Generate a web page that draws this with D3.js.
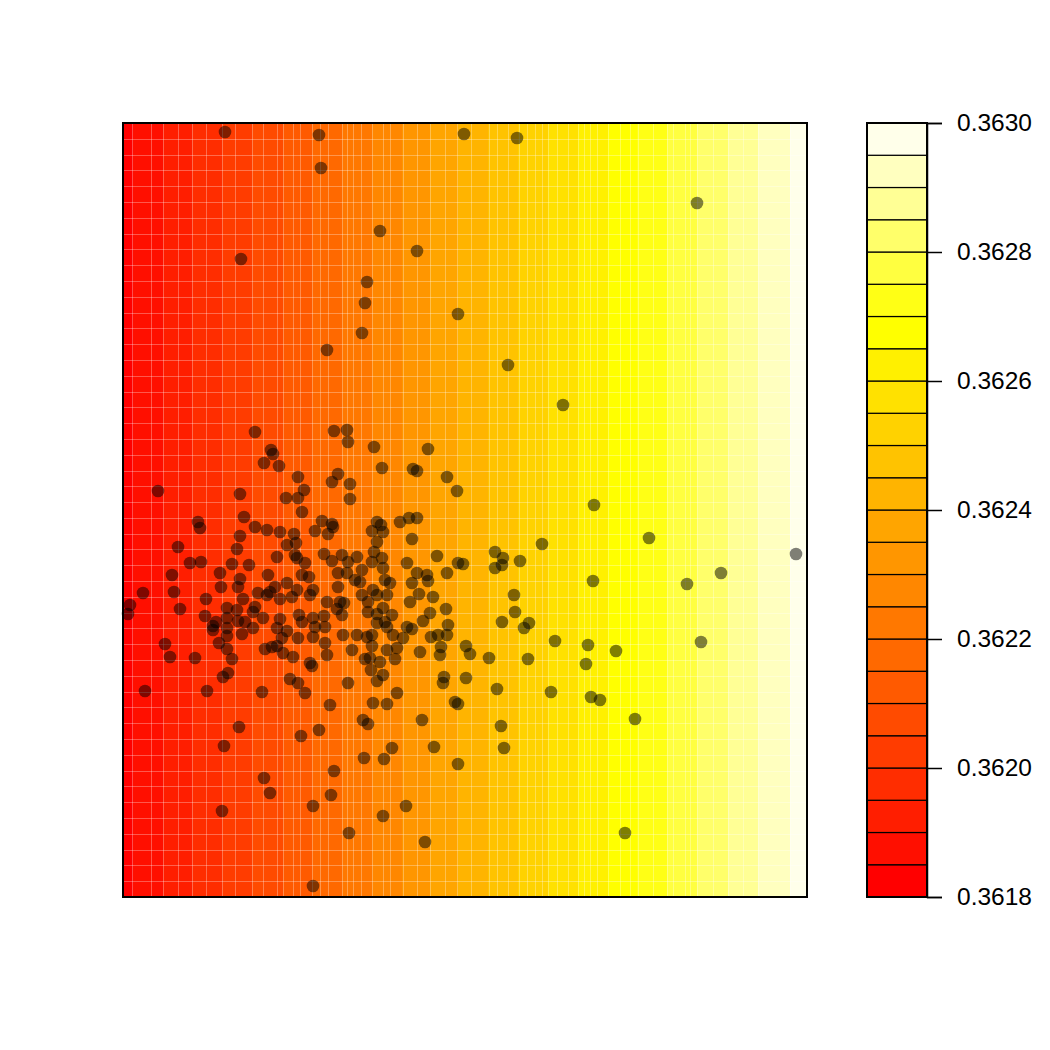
<!DOCTYPE html>
<html>
<head>
<meta charset="utf-8">
<script src="https://cdn.jsdelivr.net/npm/d3@7"></script>
<style>
  body { margin: 0; background: #fff; }
  text { font-family: "Liberation Sans", Arial, sans-serif; }
</style>
</head>
<body>
<div id="chart"></div>
<script>
// surface: value changes only along x, read as 24 bands (x edges in data units)
const bandEdges = [0, 10, 40, 69, 99, 129, 160, 189, 219, 249, 279, 307, 335,
    365, 395, 425, 455, 485, 514, 544, 574, 605, 635, 667, 684];
const bandValues = [0.361825, 0.361875, 0.361925, 0.361975, 0.362025, 0.362075,
    0.362125, 0.362175, 0.362225, 0.362275, 0.362325, 0.362375, 0.362425,
    0.362475, 0.362525, 0.362575, 0.362625, 0.362675, 0.362725, 0.362775,
    0.362825, 0.362875, 0.362925, 0.362975];

// image cell column edges (x data units), rows are uniform
const gridX = [9, 28, 40, 55, 69, 83, 99, 112, 129, 140, 154, 160, 170, 177, 189,
    197, 205, 219, 224, 230, 238, 249, 260, 267, 280, 294, 307, 322, 334, 348, 366,
    374, 385, 396, 404, 412, 419, 425, 434, 445, 455, 461, 467, 474, 485, 497, 507,
    515, 530, 544, 550, 562, 567, 574, 590, 605, 620, 635, 667];
const imageRows = 49;

// contour levels and heat colours for the key
const levels = [0.3618, 0.36185, 0.3619, 0.36195, 0.362, 0.36205, 0.3621, 0.36215,
    0.3622, 0.36225, 0.3623, 0.36235, 0.3624, 0.36245, 0.3625, 0.36255, 0.3626,
    0.36265, 0.3627, 0.36275, 0.3628, 0.36285, 0.3629, 0.36295, 0.363];
const heat = ["#FF0000", "#FF0F00", "#FF1E00", "#FF2D00", "#FF3C00", "#FF4B00",
    "#FF5A00", "#FF6900", "#FF7800", "#FF8700", "#FF9600", "#FFA500", "#FFB400",
    "#FFC300", "#FFD200", "#FFE100", "#FFF000", "#FFFF00", "#FFFF15", "#FFFF40",
    "#FFFF6A", "#FFFF95", "#FFFFBF", "#FFFFEA"];
const keyTicks = [0.3618, 0.3620, 0.3622, 0.3624, 0.3626, 0.3628, 0.3630];
const keyLabels = ["0.3618", "0.3620", "0.3622", "0.3624", "0.3626", "0.3628", "0.3630"];

// observations
const ptX = [102, 196, 198, 341, 257, 294, 118, 244, 242, 335, 239, 204, 394, 574, 385, 440,
    132, 148, 150, 141, 156, 175, 35, 117, 163, 175, 121, 75, 77, 132, 144, 157, 171, 117,
    164, 173, 55, 114, 154, 172, 174, 67, 78, 109, 126,
    211, 224, 225, 251, 305, 215, 209, 227, 259, 290, 294, 324, 334, 181, 227, 179, 199,
    209, 210, 192, 205, 254, 258, 260, 249, 277, 286, 294, 289, 254, 201, 219, 234, 251,
    259, 209, 314, 335, 340, 284, 249, 225,
    471, 526, 419, 372, 380, 397, 673, 379, 372,
    49, 97, 117, 145, 152, 147, 164, 174, 20, 51, 98, 115, 135, 144, 83, 120, 157, 169,
    7, 5, 57, 104, 114, 132, 130, 82, 140, 157, 115, 122, 104, 93, 90, 90, 104, 130, 154,
    164, 119, 104, 159, 175, 42, 96, 142, 149, 154, 104, 160, 170, 47, 72, 109, 105, 100,
    167, 22, 84, 139,
    182, 179, 186, 215, 224, 239, 232, 237, 260, 262, 267, 294, 304, 305, 289, 324, 215,
    190, 187, 239, 250, 254, 264, 296, 310, 204, 217, 221, 245, 287, 214, 176, 260, 323,
    219, 245, 254, 269, 307, 300, 179, 190, 201, 192, 202, 254, 262, 264, 284, 289, 325,
    324, 315, 308, 190, 220, 234, 244, 249, 270, 280, 202, 249, 274, 229, 264, 204, 297,
    318, 317, 343, 347, 242, 247, 272, 257, 187, 189, 248, 260, 254, 225, 321, 320, 343,
    175, 182, 274, 207, 250, 264, 332, 335,
    470, 564, 598, 391, 392, 379, 401, 406, 432, 465, 493, 578, 366, 405, 463, 374, 428,
    468, 477,
    116, 196, 178, 240, 245, 299, 101, 269, 311, 241, 261, 335, 211, 141, 147, 208, 99,
    190, 260, 283, 226, 302, 190, 378, 512, 381, 502];
const ptY = [765, 762, 729, 763, 666, 646, 638, 615, 594, 583, 564, 547, 759, 694, 532, 492,
    465, 447, 443, 434, 431, 420, 406, 403, 399, 399, 380, 375, 369, 370, 367, 365, 363, 361,
    352, 354, 350, 348, 340, 342, 339, 334, 335, 333, 332,
    466, 467, 455, 450, 448, 423, 415, 413, 429, 428, 426, 420, 406, 407, 398, 385, 376,
    373, 370, 366, 363, 375, 372, 365, 366, 375, 379, 379, 358, 355, 343, 342, 340, 345,
    339, 336, 341, 334, 333, 334, 335, 335,
    392, 359, 353, 345, 339, 336, 343, 332, 329,
    322, 324, 318, 322, 310, 305, 314, 307, 304, 305, 310, 310, 304, 302, 298, 298, 298, 300,
    292, 283, 288, 289, 287, 290, 285, 281, 279, 278, 276, 275, 279, 275, 271, 267, 269, 269, 269,
    266, 263, 261, 259, 259, 253, 254, 248, 250, 251, 248, 244, 240, 240, 239, 238, 224, 220,
    218, 206, 206, 205,
    334, 322, 320, 324, 324, 327, 317, 315, 329, 317, 314, 324, 322, 316, 314, 324, 310,
    307, 302, 302, 307, 302, 302, 303, 300, 295, 295, 294, 295, 295, 288, 282, 289, 288,
    282, 285, 283, 282, 284, 276, 275, 279, 281, 270, 270, 274, 275, 270, 270, 268, 272,
    262, 262, 260, 260, 262, 262, 260, 262, 262, 259, 254, 251, 249, 247, 247, 242, 245,
    250, 242, 251, 243, 238, 239, 238, 235, 234, 231, 227, 222, 216, 214, 220, 214, 219,
    214, 204, 204, 192, 194, 193, 195, 193,
    316, 313, 324, 302, 285, 275, 269, 274, 256, 252, 246, 255, 239, 238, 233, 208, 205,
    200, 197,
    170, 167, 161, 177, 173, 177, 151, 149, 150, 139, 138, 133, 126, 119, 104, 102, 86,
    91, 81, 91, 64, 55, 11, 171, 178, 149, 64];

const W = 1050, H = 1050;
const plot = { left: 123, right: 807, top: 123, bottom: 897 };
const key = { left: 867, right: 927, top: 123, bottom: 897 };

const svg = d3.select("#chart").append("svg")
    .attr("width", W)
    .attr("height", H);

const x = d3.scaleLinear().domain([0, 684]).range([plot.left, plot.right]);
const y = d3.scaleLinear().domain([0, 774]).range([plot.bottom, plot.top]);
const z = d3.scaleLinear().domain([levels[0], levels[levels.length - 1]]).range([key.bottom, key.top]);
const color = d3.scaleThreshold().domain(levels.slice(1, -1)).range(heat);

// image bands
svg.append("g").selectAll("rect")
    .data(bandValues).enter().append("rect")
    .attr("x", (d, i) => x(bandEdges[i]))
    .attr("y", plot.top)
    .attr("width", (d, i) => x(bandEdges[i + 1]) - x(bandEdges[i]))
    .attr("height", plot.bottom - plot.top)
    .attr("fill", d => color(d))
    .attr("shape-rendering", "crispEdges");

// faint seams between image cells
const seams = svg.append("g")
    .attr("stroke", "#fff")
    .attr("stroke-opacity", 0.3)
    .attr("stroke-width", 1);
seams.selectAll("line.v")
    .data(gridX).enter().append("line")
    .attr("class", "v")
    .attr("x1", d => Math.round(x(d)) + 0.5)
    .attr("x2", d => Math.round(x(d)) + 0.5)
    .attr("y1", plot.top)
    .attr("y2", plot.bottom);
seams.selectAll("line.h")
    .data(d3.range(1, imageRows)).enter().append("line")
    .attr("class", "h")
    .attr("x1", plot.left)
    .attr("x2", plot.right)
    .attr("y1", d => Math.round(y(d * 774 / imageRows)) + 0.5)
    .attr("y2", d => Math.round(y(d * 774 / imageRows)) + 0.5);

// points
svg.append("g").selectAll("circle")
    .data(ptX).enter().append("circle")
    .attr("cx", (d, i) => x(d))
    .attr("cy", (d, i) => y(ptY[i]))
    .attr("r", 6.3)
    .attr("fill", "#000")
    .attr("fill-opacity", 0.5);

svg.append("rect")
    .attr("x", plot.left).attr("y", plot.top)
    .attr("width", plot.right - plot.left)
    .attr("height", plot.bottom - plot.top)
    .attr("fill", "none")
    .attr("stroke", "#000")
    .attr("stroke-width", 2);

// key
const keyG = svg.append("g");
keyG.selectAll("rect")
    .data(heat).enter().append("rect")
    .attr("x", key.left)
    .attr("y", (d, i) => z(levels[i + 1]))
    .attr("width", key.right - key.left)
    .attr("height", (d, i) => z(levels[i]) - z(levels[i + 1]))
    .attr("fill", d => d)
    .attr("stroke", "#000")
    .attr("stroke-width", 1.2);
keyG.append("rect")
    .attr("x", key.left).attr("y", key.top)
    .attr("width", key.right - key.left)
    .attr("height", key.bottom - key.top)
    .attr("fill", "none")
    .attr("stroke", "#000")
    .attr("stroke-width", 2);

const axis = d3.axisRight(z)
    .tickValues(keyTicks)
    .tickFormat((d, i) => keyLabels[i])
    .tickSize(15)
    .tickPadding(15);
const ax = svg.append("g")
    .attr("transform", `translate(${key.right},0)`)
    .call(axis);
ax.select(".domain").attr("stroke-width", 1.5);
ax.selectAll(".tick line").attr("stroke-width", 1.5);
ax.selectAll(".tick text")
    .attr("font-family", "'Liberation Sans', Arial, sans-serif")
    .attr("font-size", 24.5)
    .attr("fill", "#000");
</script>
</body>
</html>
